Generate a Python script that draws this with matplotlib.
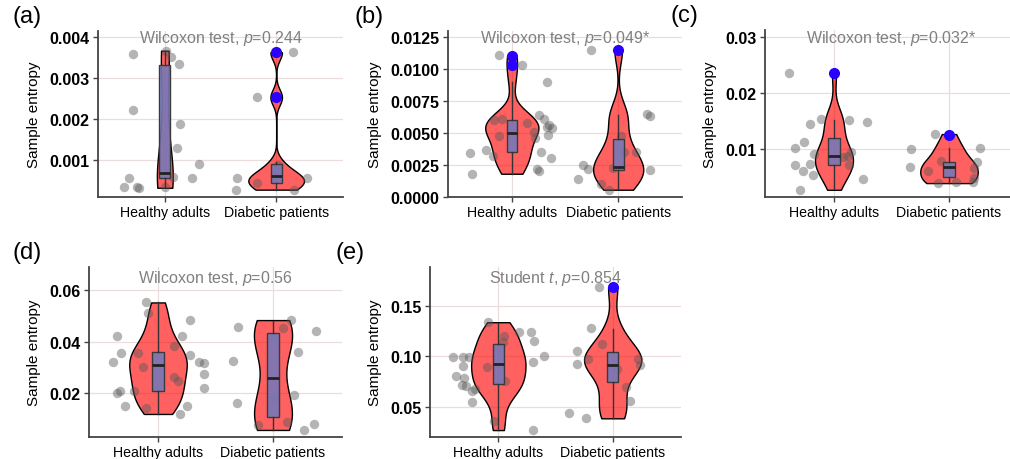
import numpy as np
import matplotlib
matplotlib.use('Agg')
import matplotlib.pyplot as plt

plt.rcParams['font.family'] = ['Liberation Sans', 'DejaVu Sans']
plt.rcParams['mathtext.fontset'] = 'custom'
plt.rcParams['mathtext.rm'] = 'Liberation Sans'
plt.rcParams['mathtext.it'] = 'Liberation Sans:italic'

groups = ['Healthy adults', 'Diabetic patients']

# (a) values + horizontal jitter (in category units)
a_healthy = [0.00359, 0.00221, 0.00035, 0.00055, 0.00033, 0.00032, 0.00367, 0.00351,
             0.00335, 0.00188, 0.0013, 0.0009, 0.00056, 0.00058, 0.00033]
a_healthy_dx = [-0.29, -0.29, -0.37, -0.32, -0.25, -0.23, 0.015, 0.06,
                0.13, 0.135, 0.11, 0.31, 0.24, 0.075, 0.0]
a_diabetic = [0.00363, 0.00253, 0.00056, 0.000275, 0.00044, 0.00055, 0.000275, 0.00062, 0.00088]
a_diabetic_dx = [0.15, -0.17, -0.35, -0.36, -0.17, 0.28, 0.16, 0.0, 0.02]
# box stats: whisker low, q1, median, q3, whisker high
a_box = [[0.00033, 0.00056, 0.00067, 0.00331, 0.00366], [0.00027, 0.00044, 0.0006, 0.00089, 0.00095]]
a_out = [[], [0.00363, 0.00253]]

# (b)
b_healthy = [0.00638, 0.00612, 0.00565, 0.00547, 0.00539, 0.00487, 0.00508, 0.00461,
             0.00356, 0.00307, 0.00221, 0.002, 0.00477, 0.00612, 0.00604, 0.00578,
             0.00364, 0.0032, 0.00344, 0.00182, 0.01111, 0.01036, 0.00903]
b_healthy_dx = [0.26, 0.30, 0.35, 0.33, 0.38, 0.34, 0.21, 0.22,
                0.27, 0.37, 0.24, 0.26, -0.12, -0.09, -0.17, 0.14,
                -0.24, -0.18, -0.39, -0.37, -0.12, 0.10, 0.33]
b_diabetic = [0.01153, 0.00651, 0.00633, 0.00481, 0.00356, 0.00356, 0.00247,
              0.00221, 0.00143, 0.00227, 0.00208, 0.00104, 0.00057]
b_diabetic_dx = [-0.26, 0.27, 0.30, 0.03, 0.05, 0.17, -0.33,
                 -0.28, -0.38, -0.05, 0.30, -0.16, -0.09]
b_box = [[0.00182, 0.00352, 0.00502, 0.00606, 0.009], [0.0006, 0.00213, 0.00237, 0.00455, 0.00643]]
b_out = [[0.01107, 0.01034], [0.01154]]

# (c)
c_healthy = [0.0236, 0.01446, 0.01536, 0.01524, 0.01477, 0.01118, 0.0101, 0.00711,
             0.00609, 0.00729, 0.00532, 0.00909, 0.00269, 0.0085, 0.00878, 0.0095,
             0.00711, 0.00461]
c_healthy_dx = [-0.39, -0.21, -0.11, 0.13, 0.29, -0.26, -0.34, -0.34,
                -0.27, -0.21, -0.18, -0.17, -0.30, 0.08, 0.12, 0.15,
                0.13, 0.25]
c_diabetic = [0.01267, 0.01, 0.00681, 0.01016, 0.00609, 0.00789, 0.00389,
              0.00412, 0.0076, 0.00652, 0.00473, 0.0041]
c_diabetic_dx = [-0.12, -0.33, -0.34, 0.27, -0.18, -0.07, -0.10,
                 0.06, 0.24, 0.22, 0.22, 0.21]
c_box = [[0.00281, 0.00711, 0.00878, 0.0119, 0.01524], [0.00389, 0.00491, 0.0067, 0.00771, 0.0101]]
c_out = [[0.0236], [0.01254]]

# (d)
d_healthy = [0.05511, 0.05087, 0.042, 0.03556, 0.03196, 0.03544, 0.03029, 0.0200,
             0.0210, 0.0210, 0.01524, 0.01434, 0.03813, 0.02643, 0.02489, 0.042,
             0.03492, 0.04829, 0.03196, 0.0317, 0.02746, 0.02193, 0.01524, 0.01203]
d_healthy_dx = [-0.10, -0.09, -0.36, -0.32, -0.39, -0.17, -0.13, -0.36,
                -0.33, -0.21, -0.29, -0.10, 0.14, 0.14, 0.17, 0.21,
                0.28, 0.28, 0.36, 0.40, 0.40, 0.40, 0.25, 0.19]
d_diabetic = [0.04572, 0.03235, 0.01614, 0.0079, 0.04186, 0.01871, 0.04508,
              0.04829, 0.03582, 0.01948, 0.00881, 0.04418, 0.00817, 0.00585]
d_diabetic_dx = [-0.30, -0.35, -0.31, -0.13, 0.0, 0.01, 0.09,
                 0.16, 0.22, 0.18, 0.12, 0.37, 0.36, 0.27]
d_box = [[0.012, 0.021, 0.03093, 0.03582, 0.0551], [0.00585, 0.011, 0.02592, 0.04328, 0.048]]
d_out = [[], []]

# (e)
e_healthy = [0.13405, 0.0998, 0.0998, 0.0998, 0.0909, 0.0809, 0.0786, 0.0719,
             0.0709, 0.0676, 0.0653, 0.0543, 0.0899, 0.1208, 0.1141, 0.0759,
             0.0354, 0.1241, 0.1248, 0.1151, 0.1008, 0.0942, 0.0267]
e_healthy_dx = [-0.09, -0.40, -0.31, -0.26, -0.31, -0.37, -0.30, -0.32,
                -0.28, -0.20, -0.23, -0.23, -0.10, 0.05, 0.04, 0.06,
                -0.04, 0.18, 0.29, 0.31, 0.40, 0.30, 0.30]
e_diabetic = [0.1689, 0.1284, 0.1058, 0.0925, 0.0437, 0.0384, 0.1125,
              0.0975, 0.0875, 0.0693, 0.0560, 0.0975, 0.0915]
e_diabetic_dx = [-0.12, -0.19, -0.31, -0.31, -0.38, -0.23, -0.09,
                 -0.22, 0.04, 0.12, 0.15, 0.22, 0.24]
e_box = [[0.0267, 0.0726, 0.0925, 0.1125, 0.133], [0.0384, 0.0742, 0.0915, 0.1042, 0.1274]]
e_out = [[], [0.1689]]

W, H = 1010, 460


def nrd0(x):
    # R's default bandwidth
    x = np.asarray(x)
    sd = x.std(ddof=1)
    q75, q25 = np.percentile(x, [75, 25])
    lo = min(sd, (q75 - q25) / 1.34)
    if lo == 0:
        lo = sd
    return 0.9 * lo * len(x) ** -0.2


def panel(rect, letter, vals, dxs, box, out, title, ylim, yticks, ylabels, title_y):
    l, r, t, b = rect
    ax = fig.add_axes([l / W, 1 - b / H, (r - l) / W, (b - t) / H])
    ax.set_xlim(0.4, 2.6)
    ax.set_ylim(*ylim)

    # violins, scale = area
    dens = []
    for v in vals:
        v = np.asarray(v)
        bw = nrd0(v)
        grid = np.linspace(v.min(), v.max(), 512)
        d = np.exp(-0.5 * ((grid[:, None] - v[None, :]) / bw) ** 2).sum(1) / (len(v) * bw * np.sqrt(2 * np.pi))
        dens.append((grid, d))
    dmax = max(d.max() for g, d in dens)
    for i, (g, d) in enumerate(dens):
        w = d / dmax * 0.25
        ax.fill_betweenx(g, i + 1 - w, i + 1 + w, facecolor=(1, 0, 0, 0.62),
                         edgecolor='black', linewidth=1, zorder=2)

    # jittered points
    for i, (v, dx) in enumerate(zip(vals, dxs)):
        ax.scatter(np.array(dx) + i + 1, v, s=46, color='#5a5a5a', alpha=0.45,
                   linewidths=0, zorder=2.5)

    stats = []
    for bx, o in zip(box, out):
        stats.append(dict(whislo=bx[0], q1=bx[1], med=bx[2], q3=bx[3], whishi=bx[4], fliers=o))
    ax.bxp(stats, positions=[1, 2], widths=0.1, patch_artist=True, showcaps=False,
           boxprops=dict(facecolor=(0.47, 0.47, 0.72, 0.9), edgecolor='#3a3a3a', linewidth=1),
           medianprops=dict(color='#222222', linewidth=2),
           whiskerprops=dict(color='#333333', linewidth=1),
           flierprops=dict(marker='o', markerfacecolor='#2a00ff', markeredgecolor='#2a00ff',
                           markersize=7),
           zorder=3)

    ax.set_xticks([1, 2])
    ax.set_xticklabels(groups, fontsize=10.2)
    ax.set_yticks(yticks)
    ax.set_yticklabels(ylabels, fontsize=11.5, fontweight='bold')
    ax.set_ylabel('Sample entropy', fontsize=11, labelpad=6)
    ax.grid(True, color='#ecdcdc', linewidth=0.9, zorder=0)
    ax.set_axisbelow(True)
    for s in ['top', 'right']:
        ax.spines[s].set_visible(False)
    for s in ['left', 'bottom']:
        ax.spines[s].set_color('#444444')
        ax.spines[s].set_linewidth(1.3)
    ax.tick_params(color='#444444', length=3.5, width=1, pad=2.5)
    ax.text(0.5, title_y, title, transform=ax.transAxes, ha='center', va='center',
            fontsize=11.5, color='#808080', zorder=5)
    fig.text(13 / W if l < 200 else (l - 94) / W, 1 - (t - 15) / H, letter,
             fontsize=17, va='center', ha='left')
    return ax


fig = plt.figure(figsize=(W / 100, H / 100), dpi=100)

panel((98, 343, 32, 198), '(a)', [a_healthy, a_diabetic], [a_healthy_dx, a_diabetic_dx],
      a_box, a_out, r'Wilcoxon test, $\mathit{p}$=0.244', (0.0000954, 0.00415),
      [0.001, 0.002, 0.003, 0.004], ['0.001', '0.002', '0.003', '0.004'], 0.962)
panel((448, 682, 32, 198), '(b)', [b_healthy, b_diabetic], [b_healthy_dx, b_diabetic_dx],
      b_box, b_out, r'Wilcoxon test, $\mathit{p}$=0.049*', (0.0, 0.01299),
      [0, 0.0025, 0.005, 0.0075, 0.01, 0.0125],
      ['0.0000', '0.0025', '0.0050', '0.0075', '0.0100', '0.0125'], 0.962)
panel((765, 1018, 31, 198), '(c)', [c_healthy, c_diabetic], [c_healthy_dx, c_diabetic_dx],
      c_box, c_out, r'Wilcoxon test, $\mathit{p}$=0.032*', (0.0014, 0.0313),
      [0.01, 0.02, 0.03], ['0.01', '0.02', '0.03'], 0.958)
panel((89, 342, 268, 437.7), '(d)', [d_healthy, d_diabetic], [d_healthy_dx, d_diabetic_dx],
      d_box, d_out, r'Wilcoxon test, $\mathit{p}$=0.56', (0.00324, 0.0688),
      [0.02, 0.04, 0.06], ['0.02', '0.04', '0.06'], 0.94)
panel((429.7, 681.3, 268, 437.7), '(e)', [e_healthy, e_diabetic], [e_healthy_dx, e_diabetic_dx],
      e_box, e_out, r'Student $\mathit{t}$, $\mathit{p}$=0.854', (0.0201, 0.189),
      [0.05, 0.10, 0.15], ['0.05', '0.10', '0.15'], 0.94)

fig.savefig('out.png', dpi=100)
